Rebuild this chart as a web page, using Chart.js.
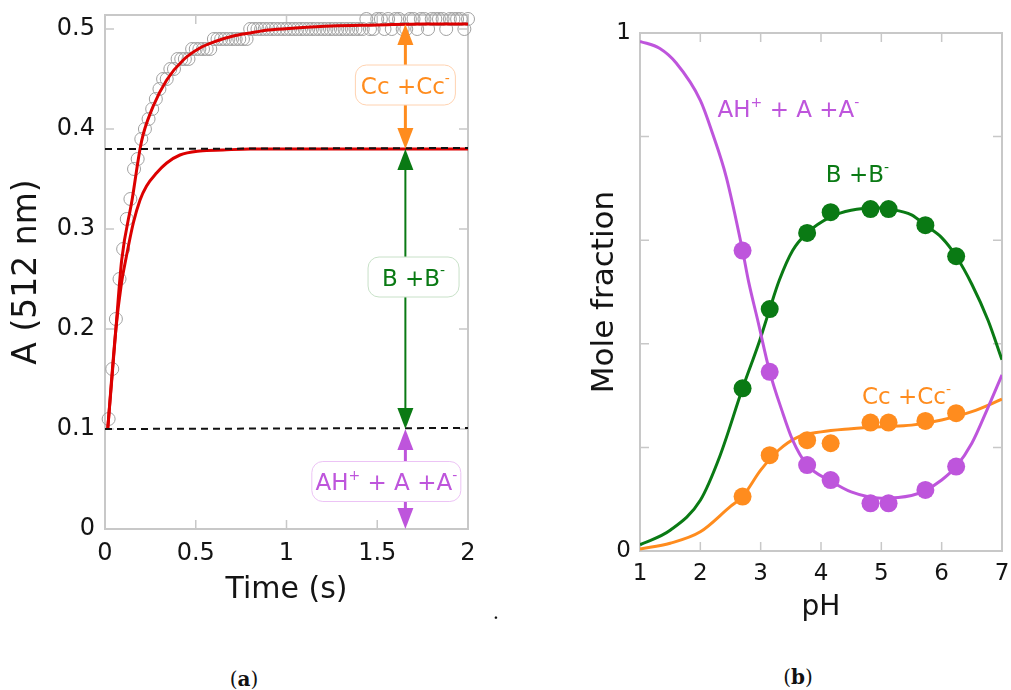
<!DOCTYPE html>
<html>
<head>
<meta charset="utf-8">
<script src="https://cdn.jsdelivr.net/npm/chart.js@4.4.1/dist/chart.umd.min.js"></script>
<style>
  body { margin: 0; background: #fff; width: 1011px; height: 690px; position: relative; overflow: hidden; }
  #kin { position: absolute; left: 0; top: 0; }
  #spec { position: absolute; left: 560px; top: 0; }
  .cap { position: absolute; font-family: "DejaVu Serif"; font-size: 20px; color: #111; transform: translate(-50%, -50%); white-space: nowrap; }
</style>
</head>
<body>
<canvas id="kin" width="500" height="640"></canvas>
<canvas id="spec" width="451" height="640"></canvas>
<div class="cap" style="left:244px;top:679px">(<b>a</b>)</div>
<div class="cap" style="left:798px;top:677px">(<b>b</b>)</div>
<div class="cap" style="left:496px;top:612px">.</div>

<script>
  // ---------- (a) kinetics at 512 nm ----------
  const timeS = [0.02, 0.04, 0.06, 0.08, 0.10, 0.12, 0.14, 0.16, 0.18, 0.20,
    0.22, 0.24, 0.26, 0.28, 0.30, 0.32, 0.34, 0.36, 0.38, 0.40,
    0.42, 0.44, 0.46, 0.48, 0.50, 0.52, 0.54, 0.56, 0.58, 0.60,
    0.62, 0.64, 0.66, 0.68, 0.70, 0.72, 0.74, 0.76, 0.78, 0.80,
    0.82, 0.84, 0.86, 0.88, 0.90, 0.92, 0.94, 0.96, 0.98, 1.00,
    1.02, 1.04, 1.06, 1.08, 1.10, 1.12, 1.14, 1.16, 1.18, 1.20,
    1.22, 1.24, 1.26, 1.28, 1.30, 1.32, 1.34, 1.36, 1.38, 1.40,
    1.42, 1.44, 1.46, 1.48, 1.50, 1.52, 1.54, 1.56, 1.58, 1.60,
    1.62, 1.64, 1.66, 1.68, 1.70, 1.72, 1.74, 1.76, 1.78, 1.80,
    1.82, 1.84, 1.86, 1.88, 1.90, 1.92, 1.94, 1.96, 1.98, 2.00];
  const absorbance = [0.11, 0.16, 0.21, 0.25, 0.28, 0.31, 0.33, 0.36, 0.37, 0.39,
    0.40, 0.41, 0.42, 0.43, 0.44, 0.45, 0.45, 0.46, 0.46, 0.47,
    0.47, 0.47, 0.47, 0.48, 0.48, 0.48, 0.48, 0.48, 0.48, 0.49,
    0.49, 0.49, 0.49, 0.49, 0.49, 0.49, 0.49, 0.49, 0.49, 0.50,
    0.50, 0.50, 0.50, 0.50, 0.50, 0.50, 0.50, 0.50, 0.50, 0.50,
    0.50, 0.50, 0.50, 0.50, 0.50, 0.50, 0.50, 0.50, 0.50, 0.50,
    0.50, 0.50, 0.50, 0.50, 0.50, 0.50, 0.50, 0.50, 0.50, 0.50,
    0.50, 0.51, 0.50, 0.50, 0.51, 0.51, 0.50, 0.51, 0.50, 0.51,
    0.51, 0.50, 0.50, 0.51, 0.51, 0.50, 0.51, 0.51, 0.50, 0.51,
    0.51, 0.51, 0.51, 0.50, 0.51, 0.51, 0.51, 0.51, 0.50, 0.51];

  // fitted total absorbance
  const fitTime = [0.015, 0.04, 0.06, 0.092, 0.15, 0.193, 0.211, 0.266, 0.34, 0.431,
    0.523, 0.615, 0.707, 0.80, 0.90, 1.05, 1.25, 1.5, 1.75, 2.0];
  const fitAbs = [0.10, 0.155, 0.20, 0.269, 0.33, 0.38, 0.395, 0.423, 0.449, 0.469,
    0.481, 0.488, 0.493, 0.496, 0.499, 0.501, 0.503, 0.504, 0.505, 0.505];

  // fitted B + B- contribution
  const partTime = [0.015, 0.06, 0.09, 0.115, 0.156, 0.193, 0.229, 0.284, 0.34, 0.413,
    0.523, 0.65, 0.8, 1.2, 2.0];
  const partAbs = [0.10, 0.20, 0.245, 0.27, 0.306, 0.329, 0.343, 0.356, 0.366, 0.374,
    0.378, 0.379, 0.38, 0.38, 0.38];

  const levelTime = [0, 2];
  const levelB = [0.38, 0.381];
  const levelA = [0.1, 0.101];

  const kinXTicks = [0, 0.5, 1, 1.5, 2];
  const kinYTicks = [0, 0.1, 0.2, 0.3, 0.4, 0.5];

  // arrows: [from, to] in absorbance, drawn at t = 1.655 s
  const arrowTime = 1.655;
  const arrowSpans = [[0.505, 0.38], [0.38, 0.1], [0.1, 0]];
  const arrowColors = ['#ff8c1e', '#0a7a14', '#be55dc'];
  const arrowLabels = [
    [['Cc +Cc', false], ['-', true]],
    [['B +B', false], ['-', true]],
    [['AH', false], ['+', true], [' + A +A', false], ['-', true]]
  ];

  // ---------- (b) species distribution ----------
  const phFine = [1, 1.33, 1.6, 2.0, 2.2, 2.43, 2.7, 2.8, 2.95, 3.15, 3.35, 3.53, 3.77,
    4.16, 4.5, 5.0, 5.5, 5.73, 6.0, 6.24, 6.5, 6.75, 7];
  const fracA = [0.984, 0.97, 0.942, 0.87, 0.807, 0.722, 0.58, 0.52, 0.446, 0.346, 0.272,
    0.214, 0.166, 0.135, 0.114, 0.102, 0.107, 0.117, 0.137, 0.163, 0.208, 0.272, 0.34];

  const phFineB = [1, 1.5, 2.0, 2.32, 2.7, 2.98, 3.15, 3.31, 3.53,
    3.77, 4.16, 4.5, 4.96, 5.12, 5.5, 5.74, 6.0, 6.24, 6.5, 6.77, 7];
  const fracB = [0.012, 0.04, 0.098, 0.182, 0.314, 0.405, 0.467,
    0.523, 0.58, 0.614, 0.645, 0.658, 0.662, 0.66, 0.649, 0.628, 0.605, 0.569, 0.515,
    0.445, 0.369];

  const phFineC = [1, 1.5, 2.0, 2.5, 2.7, 3.0, 3.3, 3.6, 4.0, 4.5, 5.0, 5.5, 6.0, 6.5, 7];
  const fracC = [0.004, 0.015, 0.037, 0.086, 0.105, 0.156, 0.195, 0.219, 0.23, 0.236, 0.24,
    0.243, 0.253, 0.269, 0.293];

  const phMeasured = [2.7, 3.15, 3.77, 4.16, 4.82, 5.12, 5.73, 6.24];
  const measA = [0.58, 0.346, 0.166, 0.137, 0.092, 0.092, 0.118, 0.163];
  const measB = [0.314, 0.467, 0.614, 0.654, 0.66, 0.66, 0.629, 0.569];
  const measC = [0.105, 0.185, 0.214, 0.208, 0.248, 0.248, 0.251, 0.266];

  const specXTicks = [1, 2, 3, 4, 5, 6, 7];
  const specYTicks = [0, 0.2, 0.4, 0.6, 0.8, 1];

  const purple = '#be55dc', green = '#0a7a14', orange = '#ff8c1e';

  Chart.defaults.font.family = '"DejaVu Sans"';
  Chart.defaults.color = '#141414';

  const pts = (xs, ys) => xs.map((x, i) => ({ x: x, y: ys[i] }));

  // no extra room for tick labels spilling past the plot edges
  const noSpill = s => {
    s.paddingTop = 0; s.paddingBottom = 0; s.paddingLeft = 0; s.paddingRight = 0;
  };

  // draws text with small raised parts (+ and - charges)
  function drawRich(ctx, parts, x, y, size, color) {
    const main = size + 'px "DejaVu Sans"';
    const sup = Math.round(size * 0.6) + 'px "DejaVu Sans"';
    let w = 0;
    parts.forEach(([t, s]) => { ctx.font = s ? sup : main; w += ctx.measureText(t).width; });
    let cx = x - w / 2;
    ctx.fillStyle = color;
    ctx.textAlign = 'left';
    ctx.textBaseline = 'alphabetic';
    parts.forEach(([t, s]) => {
      ctx.font = s ? sup : main;
      ctx.fillText(t, cx, s ? y - size * 0.45 : y);
      cx += ctx.measureText(t).width;
    });
    return w;
  }

  function roundRect(ctx, x, y, w, h, r) {
    ctx.beginPath();
    ctx.moveTo(x + r, y);
    ctx.arcTo(x + w, y, x + w, y + h, r);
    ctx.arcTo(x + w, y + h, x, y + h, r);
    ctx.arcTo(x, y + h, x, y, r);
    ctx.arcTo(x, y, x + w, y, r);
    ctx.closePath();
  }

  // grey box round the plot with short ticks pointing inwards on all sides
  const frameTicks = {
    id: 'frameTicks',
    beforeDatasetsDraw(chart) {
      const { ctx, chartArea: a } = chart;
      const xs = chart.scales.x, ys = chart.scales.y;
      ctx.save();
      ctx.strokeStyle = '#c8c8c8';
      ctx.lineWidth = 1.5;
      const len = 9;
      ctx.beginPath();
      xs.ticks.forEach(t => {
        const px = xs.getPixelForValue(t.value);
        ctx.moveTo(px, a.bottom); ctx.lineTo(px, a.bottom - len);
        ctx.moveTo(px, a.top); ctx.lineTo(px, a.top + len);
      });
      ys.ticks.forEach(t => {
        const py = ys.getPixelForValue(t.value);
        ctx.moveTo(a.left, py); ctx.lineTo(a.left + len, py);
        ctx.moveTo(a.right, py); ctx.lineTo(a.right - len, py);
      });
      ctx.stroke();
      ctx.lineWidth = 2;
      ctx.strokeRect(a.left, a.top, a.right - a.left, a.bottom - a.top);
      ctx.restore();
    }
  };

  function arrowHead(ctx, x, tipY, dir, color) {
    // dir = -1 points up, +1 points down
    const L = 21, W = 8;
    ctx.fillStyle = color;
    ctx.beginPath();
    ctx.moveTo(x, tipY);
    ctx.lineTo(x - W, tipY - dir * L);
    ctx.lineTo(x + W, tipY - dir * L);
    ctx.closePath();
    ctx.fill();
  }

  const arrowPlugin = {
    id: 'arrowPlugin',
    afterDatasetsDraw(chart, args, opts) {
      const { ctx } = chart;
      const xs = chart.scales.x, ys = chart.scales.y;
      const px = xs.getPixelForValue(arrowTime);
      ctx.save();
      arrowSpans.forEach(([hi, lo], i) => {
        const yTop = ys.getPixelForValue(hi), yBot = ys.getPixelForValue(lo);
        ctx.strokeStyle = arrowColors[i];
        ctx.lineWidth = opts.widths[i];
        ctx.beginPath();
        ctx.moveTo(px, yTop + 10); ctx.lineTo(px, yBot - 10);
        ctx.stroke();
        arrowHead(ctx, px, yTop, -1, arrowColors[i]);
        arrowHead(ctx, px, yBot, 1, arrowColors[i]);
      });
      opts.boxes.forEach((b, i) => {
        const cx = xs.getPixelForValue(b.t), cy = ys.getPixelForValue(b.a);
        ctx.fillStyle = '#fff';
        ctx.strokeStyle = b.edge;
        ctx.lineWidth = 1;
        roundRect(ctx, cx - b.w / 2, cy - 20, b.w, 40, 11);
        ctx.fill();
        ctx.stroke();
        drawRich(ctx, arrowLabels[i], cx, cy + 8.5, 23, arrowColors[i]);
      });
      ctx.restore();
    }
  };

  new Chart(document.getElementById('kin'), {
    type: 'line',
    data: {
      datasets: [
        { data: pts(levelTime, levelB), borderColor: '#111', borderWidth: 2, borderDash: [7, 5], pointRadius: 0 },
        { data: pts(levelTime, levelA), borderColor: '#111', borderWidth: 2, borderDash: [7, 5], pointRadius: 0 },
        { data: pts(fitTime, fitAbs), borderColor: '#dc0000', borderWidth: 3, pointRadius: 0, cubicInterpolationMode: 'monotone' },
        { data: pts(partTime, partAbs), borderColor: '#dc0000', borderWidth: 3, pointRadius: 0, cubicInterpolationMode: 'monotone' },
        { data: pts(timeS, absorbance), showLine: false, pointRadius: 6.5, pointBorderWidth: 1,
          pointBorderColor: '#a0a0a0', pointBackgroundColor: 'rgba(0,0,0,0)', clip: false }
      ]
    },
    options: {
      responsive: false,
      animation: false,
      layout: { padding: { left: 0, top: 15, right: 32, bottom: 32 } },
      plugins: {
        legend: { display: false },
        tooltip: { enabled: false },
        arrowPlugin: {
          widths: [3, 2, 3],
          boxes: [
            { t: 1.655, a: 0.444, w: 100, edge: '#ffd2b0' },
            { t: 1.70, a: 0.252, w: 91, edge: '#c8e1c8' },
            { t: 1.55, a: 0.0475, w: 149, edge: '#ecc3f5' }
          ]
        }
      },
      scales: {
        x: {
          type: 'linear', min: 0, max: 2,
          afterBuildTicks: s => { s.ticks = kinXTicks.map(v => ({ value: v })); },
          afterFit: s => { s.height = 79; noSpill(s); },
          grid: { display: false, drawTicks: false },
          border: { display: false },
          ticks: { font: { size: 24 }, padding: 10, maxRotation: 0, autoSkip: false, callback: v => String(v) },
          title: { display: true, text: 'Time (s)', font: { size: 30 }, padding: 0 }
        },
        y: {
          type: 'linear', min: 0, max: 0.514,
          afterBuildTicks: s => { s.ticks = kinYTicks.map(v => ({ value: v })); },
          afterFit: s => { s.width = 105; noSpill(s); },
          grid: { display: false, drawTicks: false },
          border: { display: false },
          ticks: { font: { size: 24 }, padding: 10, callback: v => v === 0 ? '0' : v.toFixed(1) },
          title: { display: true, text: 'A (512 nm)', font: { size: 33 }, padding: { top: 8, bottom: 0 } }
        }
      }
    },
    plugins: [frameTicks, arrowPlugin]
  });

  // species names written inside panel (b)
  const speciesPlugin = {
    id: 'speciesPlugin',
    afterDatasetsDraw(chart, args, opts) {
      const { ctx } = chart;
      const xs = chart.scales.x, ys = chart.scales.y;
      ctx.save();
      opts.items.forEach(it => {
        const parts = it.parts;
        let w = 0;
        parts.forEach(([t, s]) => { ctx.font = (s ? 14 : 23) + 'px "DejaVu Sans"'; w += ctx.measureText(t).width; });
        drawRich(ctx, parts, xs.getPixelForValue(it.ph) + w / 2, ys.getPixelForValue(it.f), 23, it.color);
      });
      ctx.restore();
    }
  };

  new Chart(document.getElementById('spec'), {
    type: 'line',
    data: {
      datasets: [
        { data: pts(phMeasured, measA), showLine: false, pointRadius: 9, pointBorderWidth: 0, pointBackgroundColor: purple },
        { data: pts(phMeasured, measB), showLine: false, pointRadius: 9, pointBorderWidth: 0, pointBackgroundColor: green },
        { data: pts(phMeasured, measC), showLine: false, pointRadius: 9, pointBorderWidth: 0, pointBackgroundColor: orange },
        { data: pts(phFine, fracA), borderColor: purple, borderWidth: 3, pointRadius: 0, cubicInterpolationMode: 'monotone' },
        { data: pts(phFineB, fracB), borderColor: green, borderWidth: 3, pointRadius: 0, cubicInterpolationMode: 'monotone' },
        { data: pts(phFineC, fracC), borderColor: orange, borderWidth: 3, pointRadius: 0, cubicInterpolationMode: 'monotone' }
      ]
    },
    options: {
      responsive: false,
      animation: false,
      layout: { padding: { left: 0, top: 33, right: 7, bottom: 15 } },
      plugins: {
        legend: { display: false },
        tooltip: { enabled: false },
        speciesPlugin: {
          items: [
            { ph: 2.286, f: 0.838, color: purple, parts: [['AH', false], ['+', true], [' + A +A', false], ['-', true]] },
            { ph: 4.08, f: 0.712, color: green, parts: [['B +B', false], ['-', true]] },
            { ph: 4.68, f: 0.284, color: orange, parts: [['Cc +Cc', false], ['-', true]] }
          ]
        }
      },
      scales: {
        x: {
          type: 'linear', min: 1, max: 7,
          afterBuildTicks: s => { s.ticks = specXTicks.map(v => ({ value: v })); },
          afterFit: s => { s.height = 74; noSpill(s); },
          grid: { display: false, drawTicks: false },
          border: { display: false },
          ticks: { font: { size: 23 }, padding: 9, maxRotation: 0, autoSkip: false, callback: v => String(v) },
          title: { display: true, text: 'pH', font: { size: 28 }, padding: 0 }
        },
        y: {
          type: 'linear', min: 0, max: 1,
          afterBuildTicks: s => { s.ticks = specYTicks.map(v => ({ value: v })); },
          afterFit: s => { s.width = 80; noSpill(s); },
          grid: { display: false, drawTicks: false },
          border: { display: false },
          ticks: { font: { size: 23 }, padding: 9, callback: v => (v === 0 || v === 1) ? String(v) : '' },
          title: { display: true, text: 'Mole fraction', font: { size: 31 }, padding: { top: 26, bottom: 0 } }
        }
      }
    },
    plugins: [frameTicks, speciesPlugin]
  });
</script>
</body>
</html>
